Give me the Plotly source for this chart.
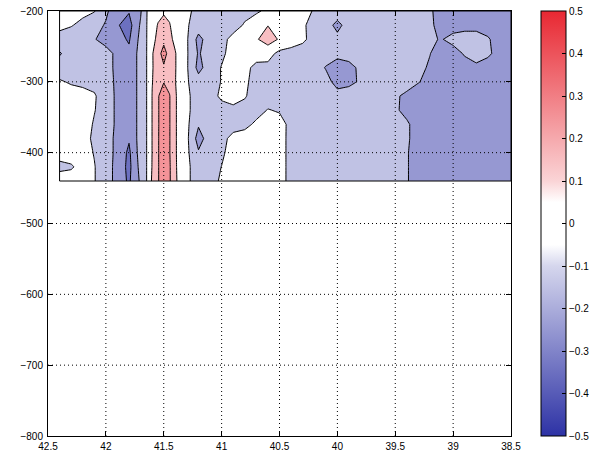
import plotly.graph_objects as go

# ---------------- data ----------------
lat = [42.4, 42.3, 42.2, 42.1, 42.0, 41.9, 41.8, 41.75, 41.7, 41.65,
       41.6, 41.55, 41.5, 41.45, 41.4, 41.35, 41.3, 41.2,
       41.1, 41.0, 40.9, 40.8, 40.7, 40.6, 40.5, 40.4, 40.3, 40.2, 40.1, 40.0,
       39.9, 39.8, 39.7, 39.6, 39.5, 39.4, 39.3, 39.2, 39.1, 39.0,
       38.9, 38.8, 38.7, 38.6, 38.5]
depth = [-200, -220, -240, -260, -280, -300, -320, -340, -360, -380, -400, -420, -440]

r200 = [-0.05, -0.06, -0.08, -0.095, -0.18, -0.27, -0.29, -0.23, -0.21, -0.11,
        -0.02, 0.05, 0.08, 0.06, 0.0, -0.05, -0.08, -0.13,
        -0.15, -0.15, -0.14, -0.13, -0.12, -0.07, -0.05, -0.05, -0.06, -0.11, -0.15, -0.16,
        -0.16, -0.15, -0.15, -0.16, -0.16, -0.17, -0.18, -0.19, -0.23, -0.25,
        -0.25, -0.25, -0.25, -0.25, -0.25]
r220 = [-0.08, -0.095, -0.12, -0.16, -0.21, -0.29, -0.35, -0.25, -0.19, -0.11,
        0.02, 0.11, 0.15, 0.11, 0.03, -0.03, -0.09, -0.15,
        -0.15, -0.15, -0.14, -0.09, -0.02, 0.095, -0.02, -0.04, -0.08, -0.15, -0.17, -0.22,
        -0.17, -0.15, -0.15, -0.16, -0.16, -0.17, -0.18, -0.19, -0.22, -0.24,
        -0.23, -0.23, -0.24, -0.25, -0.25]
r240 = [-0.13, -0.14, -0.16, -0.195, -0.23, -0.27, -0.31, -0.24, -0.17, -0.11,
        0.05, 0.14, 0.18, 0.14, 0.06, -0.02, -0.09, -0.23,
        -0.15, -0.13, -0.07, -0.04, 0.08, 0.19, 0.08, -0.03, -0.08, -0.14, -0.16, -0.18,
        -0.16, -0.15, -0.15, -0.16, -0.16, -0.17, -0.18, -0.19, -0.205, -0.17,
        -0.16, -0.16, -0.19, -0.24, -0.25]
r260 = [-0.21, -0.15, -0.16, -0.17, -0.17, -0.22, -0.28, -0.22, -0.16, -0.11,
        0.09, 0.17, 0.23, 0.17, 0.11, 0.0, -0.09, -0.21,
        -0.15, -0.12, -0.06, -0.05, -0.05, -0.03, -0.15, -0.15, -0.15, -0.15, -0.16, -0.17,
        -0.16, -0.15, -0.15, -0.16, -0.16, -0.17, -0.18, -0.198, -0.24, -0.24,
        -0.19, -0.16, -0.18, -0.24, -0.25]
r280 = [-0.15, -0.14, -0.15, -0.16, -0.17, -0.22, -0.27, -0.22, -0.16, -0.11,
        0.09, 0.16, 0.19, 0.16, 0.11, 0.0, -0.09, -0.23,
        -0.15, -0.095, -0.04, -0.07, -0.13, -0.15, -0.15, -0.15, -0.15, -0.16, -0.205, -0.25,
        -0.23, -0.18, -0.15, -0.16, -0.16, -0.17, -0.18, -0.21, -0.25, -0.26,
        -0.24, -0.22, -0.25, -0.26, -0.26]
r300 = [-0.09, -0.11, -0.12, -0.13, -0.16, -0.22, -0.27, -0.22, -0.16, -0.11,
        0.095, 0.17, 0.195, 0.17, 0.105, 0.0, -0.09, -0.16,
        -0.15, -0.095, -0.04, -0.08, -0.14, -0.15, -0.15, -0.15, -0.15, -0.15, -0.17, -0.23,
        -0.22, -0.19, -0.16, -0.16, -0.17, -0.17, -0.195, -0.23, -0.26, -0.27,
        -0.27, -0.27, -0.27, -0.27, -0.27]
r320 = [-0.05, -0.06, -0.07, -0.09, -0.15, -0.22, -0.27, -0.22, -0.16, -0.11,
        0.105, 0.19, 0.26, 0.205, 0.12, 0.01, -0.08, -0.15,
        -0.14, -0.08, -0.05, -0.09, -0.15, -0.15, -0.15, -0.15, -0.15, -0.15, -0.15, -0.17,
        -0.16, -0.15, -0.15, -0.16, -0.19, -0.215, -0.25, -0.26, -0.27, -0.27,
        -0.27, -0.27, -0.27, -0.27, -0.27]
r340 = [-0.04, -0.04, -0.05, -0.095, -0.15, -0.22, -0.27, -0.22, -0.16, -0.11,
        0.105, 0.19, 0.26, 0.205, 0.12, 0.01, -0.08, -0.15,
        -0.15, -0.14, -0.13, -0.14, -0.14, -0.095, -0.11, -0.15, -0.15, -0.15, -0.15, -0.15,
        -0.15, -0.15, -0.15, -0.16, -0.19, -0.22, -0.25, -0.26, -0.27, -0.27,
        -0.27, -0.27, -0.27, -0.27, -0.27]
r360 = [-0.04, -0.04, -0.05, -0.11, -0.15, -0.22, -0.28, -0.22, -0.16, -0.11,
        0.105, 0.19, 0.26, 0.205, 0.12, 0.01, -0.08, -0.19,
        -0.15, -0.15, -0.14, -0.13, -0.08, -0.05, -0.06, -0.13, -0.15, -0.15, -0.15, -0.15,
        -0.15, -0.15, -0.15, -0.15, -0.16, -0.19, -0.23, -0.26, -0.27, -0.27,
        -0.27, -0.27, -0.27, -0.27, -0.27]
r380 = [-0.05, -0.05, -0.06, -0.12, -0.15, -0.23, -0.29, -0.22, -0.16, -0.11,
        0.105, 0.19, 0.27, 0.205, 0.12, 0.01, -0.08, -0.24,
        -0.15, -0.13, -0.07, -0.05, -0.04, -0.04, -0.05, -0.14, -0.15, -0.15, -0.15, -0.15,
        -0.15, -0.15, -0.15, -0.15, -0.16, -0.19, -0.23, -0.26, -0.27, -0.27,
        -0.27, -0.27, -0.27, -0.27, -0.27]
r400 = [-0.07, -0.06, -0.06, -0.105, -0.15, -0.23, -0.32, -0.23, -0.16, -0.11,
        0.105, 0.19, 0.27, 0.205, 0.12, 0.01, -0.08, -0.19,
        -0.15, -0.12, -0.05, -0.04, -0.04, -0.04, -0.05, -0.14, -0.15, -0.15, -0.15, -0.15,
        -0.15, -0.15, -0.15, -0.15, -0.16, -0.195, -0.23, -0.26, -0.27, -0.27,
        -0.27, -0.27, -0.27, -0.27, -0.27]
r420 = [-0.12, -0.11, -0.07, -0.095, -0.16, -0.23, -0.33, -0.24, -0.17, -0.11,
        0.11, 0.19, 0.27, 0.21, 0.125, 0.01, -0.08, -0.15,
        -0.15, -0.098, -0.05, -0.04, -0.04, -0.04, -0.05, -0.14, -0.15, -0.15, -0.15, -0.15,
        -0.15, -0.15, -0.15, -0.15, -0.16, -0.195, -0.23, -0.26, -0.27, -0.27,
        -0.27, -0.27, -0.27, -0.27, -0.27]
r440 = [-0.06, -0.06, -0.07, -0.095, -0.16, -0.23, -0.32, -0.23, -0.19, -0.11,
        0.13, 0.19, 0.27, 0.21, 0.13, 0.02, -0.08, -0.15,
        -0.15, -0.08, -0.05, -0.04, -0.04, -0.04, -0.05, -0.14, -0.15, -0.15, -0.15, -0.15,
        -0.15, -0.15, -0.15, -0.15, -0.16, -0.195, -0.23, -0.26, -0.27, -0.27,
        -0.27, -0.27, -0.27, -0.27, -0.27]
values = [r200, r220, r240, r260, r280, r300, r320, r340, r360, r380, r400, r420, r440]

x_ticks = [42.5, 42.0, 41.5, 41.0, 40.5, 40.0, 39.5, 39.0, 38.5]
x_labels = ["42.5", "42", "41.5", "41", "40.5", "40", "39.5", "39", "38.5"]
y_ticks = [-800, -700, -600, -500, -400, -300, -200]
y_labels = ["\u2212800", "\u2212700", "\u2212600", "\u2212500", "\u2212400", "\u2212300", "\u2212200"]
cb_ticks = [-0.5, -0.4, -0.3, -0.2, -0.1, 0.0, 0.1, 0.2, 0.3, 0.4, 0.5]
cb_labels = ["\u22120.5", "\u22120.4", "\u22120.3", "\u22120.2", "\u22120.1", "0",
             "0.1", "0.2", "0.3", "0.4", "0.5"]
levels_neg = (-0.3, -0.1)
levels_pos = (0.1, 0.2)
step = 0.1

# ---------------- colours ----------------
BLUE = (45, 50, 165)
RED = (232, 40, 50)
WHITE = (255, 255, 255)


def cmap(v):
    if abs(v) <= 0.05 + 1e-9:
        return WHITE
    t = min(1.0, abs(v) / 0.5)
    end = BLUE if v < 0 else RED
    return tuple(round(WHITE[i] + (end[i] - WHITE[i]) * t) for i in range(3))


def rgb(c):
    return "rgb(%d,%d,%d)" % c


cb_scale = [[0.0, rgb(cmap(-0.5))], [0.4, rgb(cmap(-0.1))], [0.45, rgb(WHITE)],
            [0.55, rgb(WHITE)], [0.6, rgb(cmap(0.1))], [1.0, rgb(cmap(0.5))]]

f_start, f_end = levels_neg[0], levels_pos[1]
lo, hi = f_start - step / 2, f_end + step / 2
n_bands = int(round((hi - lo) / step))
mids = [lo + step * k for k in range(n_bands + 1)]
fill_scale = [[round(k / n_bands, 6), rgb(cmap(m))] for k, m in enumerate(mids)]
fill_scale[0][0] = 0.0
fill_scale[-1][0] = 1.0

FONT = "Liberation Sans, Arial, Helvetica, sans-serif"
W, H = 601, 454
L, R, T, B = 48, 90, 11, 18
CB_X = 541

fig = go.Figure()
fig.add_trace(go.Contour(
    x=lat, y=depth, z=values,
    contours=dict(start=f_start, end=f_end, size=step, coloring="fill", showlines=False),
    colorscale=fill_scale, showscale=False, line=dict(width=0, smoothing=0),
    hoverinfo="skip"))
for a, b in (levels_neg, levels_pos):
    fig.add_trace(go.Contour(
        x=lat, y=depth, z=values,
        contours=dict(start=a, end=b, size=step, coloring="none"),
        line=dict(color="black", width=1, smoothing=0),
        showscale=False, hoverinfo="skip"))

# outline of the data patch (MATLAB contourf edge)
fig.add_trace(go.Scatter(
    x=[min(lat), max(lat), max(lat), min(lat), min(lat)],
    y=[max(depth), max(depth), min(depth), min(depth), max(depth)],
    mode="lines", line=dict(color="black", width=1), hoverinfo="skip"))

# continuous colour bar
fig.add_trace(go.Scatter(
    x=[lat[0]], y=[depth[0]], mode="markers",
    marker=dict(size=1, opacity=0, color=[0], colorscale=cb_scale, cmin=-0.5, cmax=0.5,
                showscale=True,
                colorbar=dict(x=(CB_X - L) / (W - L - R), xanchor="left", xpad=0, ypad=0,
                              y=0.5, yanchor="middle", len=1, lenmode="fraction",
                              thickness=25, thicknessmode="pixels",
                              outlinewidth=1, outlinecolor="black",
                              tickvals=cb_ticks, ticktext=cb_labels,
                              ticks="inside", ticklen=4, tickcolor="black",
                              ticklabeloverflow="allow",
                              tickfont=dict(size=10, family=FONT, color="black"))),
    hoverinfo="skip"))

shapes = []
for xv in x_ticks[1:-1]:
    shapes.append(dict(type="line", xref="x", yref="y", x0=xv, x1=xv,
                       y0=y_ticks[0], y1=y_ticks[-1], layer="above",
                       line=dict(color="black", width=1, dash="1px,3px")))
for yv in y_ticks[1:-1]:
    shapes.append(dict(type="line", xref="x", yref="y", x0=x_ticks[0], x1=x_ticks[-1],
                       y0=yv, y1=yv, layer="above",
                       line=dict(color="black", width=1, dash="1px,3px")))

fig.update_layout(
    width=W, height=H,
    margin=dict(l=L, r=R, t=T, b=B, autoexpand=False),
    paper_bgcolor="white", plot_bgcolor="white",
    showlegend=False,
    font=dict(family=FONT, size=10, color="black"),
    shapes=shapes,
    xaxis=dict(range=[x_ticks[0], x_ticks[-1]], tickvals=x_ticks, ticktext=x_labels,
               ticks="inside", ticklen=5, tickcolor="black", showline=True,
               linecolor="black", linewidth=1, mirror="ticks", showgrid=False,
               zeroline=False, automargin=False, ticklabelstandoff=1,
               ticklabeloverflow="allow"),
    yaxis=dict(range=[y_ticks[0], y_ticks[-1]], tickvals=y_ticks, ticktext=y_labels,
               ticks="inside", ticklen=5, tickcolor="black", showline=True,
               linecolor="black", linewidth=1, mirror="ticks", showgrid=False,
               zeroline=False, automargin=False, ticklabelstandoff=2,
               ticklabeloverflow="allow"),
)

fig.write_html("out.html",
               config={"displayModeBar": False, "staticPlot": True},
               post_script="document.body.style.margin='0';"
                           "document.body.style.overflow='hidden';")
